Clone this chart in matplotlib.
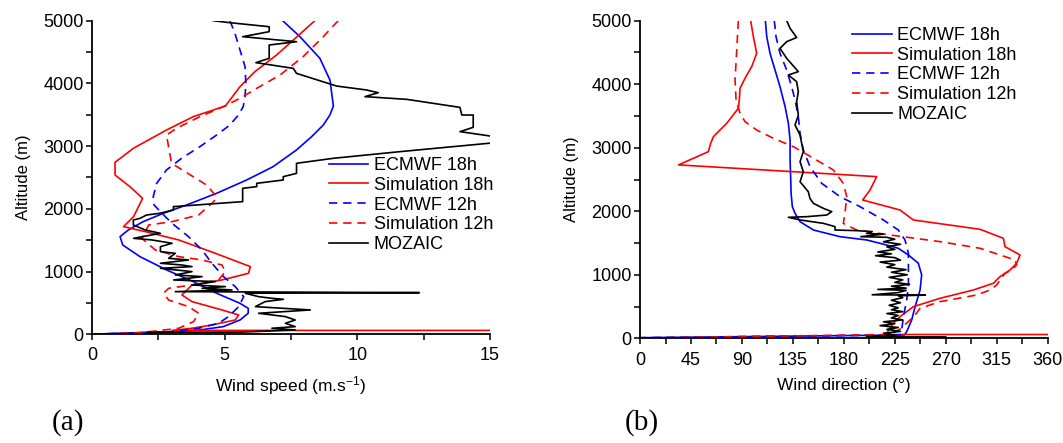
import numpy as np
import matplotlib
matplotlib.use('Agg')
import matplotlib.pyplot as plt
from matplotlib.ticker import MultipleLocator

plt.rcParams['font.family'] = ['Liberation Sans', 'DejaVu Sans']
plt.rcParams['mathtext.default'] = 'regular'

# -------------------- Data: (a) wind speed --------------------
# (value, altitude) pairs, top to bottom

spd_ecmwf18 = [7.19, 7.84, 8.59, 8.97, 9.07, 9.10, 8.97, 8.72, 8.28, 7.71, 6.83, 5.83,
               4.70, 3.57, 2.69, 1.93, 1.37, 1.06, 1.16, 1.81, 2.81, 3.82, 4.70, 5.58,
               5.89, 5.89, 5.58, 4.95, 4.07, 3.07, 0.93, 0.0]
alt_ecmwf18 = [5000, 4745, 4400, 4054, 3735, 3640, 3497, 3337, 3151, 2939, 2673, 2460,
               2248, 2062, 1929, 1796, 1663, 1557, 1424, 1238, 1026, 840, 654, 494,
               414, 335, 228, 122, 69, 43, 16, 0]

spd_sim18 = [8.40, 7.59, 6.96, 6.14, 5.58, 5.03, 3.82, 2.81, 1.56, 0.87, 0.87, 1.43,
             1.91, 1.57, 1.19, 2.01, 3.27, 4.65, 5.97, 5.90, 4.90, 3.77, 3.39, 3.77,
             4.90, 5.53, 5.40, 4.52, 3.77, 3.02, 99.0]
alt_sim18 = [5000, 4692, 4453, 4187, 3948, 3640, 3470, 3257, 2965, 2742, 2540, 2354,
             2168, 1876, 1716, 1637, 1504, 1291, 1079, 972, 866, 786, 627, 521,
             388, 308, 228, 149, 96, 62, 62]

spd_ecmwf12 = [5.20, 5.39, 5.58, 5.77, 5.80, 5.77, 5.70, 5.52, 5.20, 4.70, 4.07, 3.38,
               2.81, 2.44, 2.31, 2.34, 2.64, 3.02, 3.64, 4.15, 4.52, 4.96, 5.40, 5.72,
               5.53, 5.15, 4.77, 4.02, 3.02, 1.26, 0.0]
alt_ecmwf12 = [5000, 4798, 4532, 4267, 4001, 3789, 3629, 3496, 3337, 3177, 2992, 2806,
               2620, 2407, 2194, 2062, 1929, 1769, 1557, 1344, 1132, 919, 760, 600,
               441, 282, 175, 96, 43, 16, 0]

spd_sim12 = [9.28, 8.72, 7.96, 7.09, 6.21, 5.58, 4.95, 4.07, 3.19, 2.81, 3.00, 4.32,
             4.70, 4.59, 4.02, 3.02, 2.14, 1.88, 2.39, 3.27, 4.15, 4.90, 5.03, 4.77,
             3.77, 2.89, 2.70, 2.89, 3.64, 4.02, 3.83, 3.27, 1.88, 0.0]
alt_sim12 = [5000, 4745, 4426, 4134, 3921, 3762, 3629, 3470, 3284, 3177, 2726, 2380,
             2194, 2115, 1902, 1796, 1743, 1530, 1344, 1238, 1185, 1105, 999, 866,
             786, 733, 654, 547, 441, 335, 202, 96, 27, 0]

spd_mozaic = [4.57, 5.20, 6.68, 6.68, 5.68, 7.71, 6.68, 6.68, 6.18, 7.59, 7.71, 9.22,
              10.35, 10.79, 10.29, 11.86, 13.87, 13.94, 14.37, 14.37, 13.87, 15.0, 15.6,
              11.61, 9.10, 7.71, 7.71, 7.21, 7.21, 6.21, 6.21, 5.68, 5.68, 3.07, 3.07,
              2.56, 2.06, 1.81, 1.56, 1.56, 2.01, 2.58, 1.57, 2.26, 3.02, 2.58, 2.58,
              3.14, 2.89, 3.64, 2.58, 3.39, 3.77, 2.58, 3.77, 3.14, 4.15, 3.08, 4.65,
              3.77, 5.03, 4.15, 5.28, 3.14, 12.34, 5.78, 6.28, 6.78, 7.22, 6.53, 6.16,
              8.23, 6.28, 7.29, 7.66, 7.29, 7.66, 6.78, 7.66, 5.65, 2.07, 2.4]
alt_mozaic = [5000, 4968, 4904, 4825, 4745, 4665, 4612, 4400, 4331, 4240, 4160, 3958,
              3895, 3852, 3789, 3746, 3618, 3496, 3496, 3300, 3231, 3162, 3071,
              2912, 2806, 2726, 2566, 2513, 2460, 2407, 2354, 2327, 2115, 2035, 1982,
              1929, 1902, 1849, 1822, 1743, 1663, 1610, 1530, 1504, 1451, 1397, 1318,
              1291, 1211, 1185, 1132, 1105, 1079, 1052, 999, 946, 919, 866, 840,
              786, 760, 733, 707, 680, 664, 654, 600, 574, 558, 521, 441,
              388, 335, 282, 228, 175, 122, 96, 69, 35, 30, 20]

# -------------------- Data: (b) wind direction --------------------

dir_ecmwf18 = [110.7, 111.9, 114.8, 119.2, 123.6, 128.1, 131.0, 132.5, 132.5, 133.1,
               133.4, 134.5, 136.9, 141.3, 153.1, 176.6, 200.2, 217.8, 228.1, 237.0,
               245.8, 248.7, 247.3, 242.9, 239.9, 235.5, 233.4, 0.0]
alt_d_ecmwf18 = [5000, 4748, 4486, 4224, 3961, 3647, 3384, 3122, 2807, 2492,
                 2282, 2072, 1968, 1836, 1705, 1600, 1548, 1469, 1417, 1312,
                 1181, 997, 761, 498, 289, 105, 52, 10]

dir_ecmwf12 = [118.6, 120.1, 123.6, 129.5, 133.9, 136.9, 139.8, 141.3, 144.2, 150.1,
               160.4, 176.6, 194.3, 214.9, 228.1, 234.0, 237.0, 237.0, 237.0, 235.5,
               232.6, 231.1, 229.6, 0.0]
alt_d_ecmwf12 = [5000, 4748, 4486, 4224, 3961, 3752, 3489, 3227, 2965, 2702,
                 2440, 2230, 2072, 1863, 1705, 1548, 1338, 1128, 813, 603,
                 341, 131, 52, 10]

dir_sim18 = [97.7, 100.1, 103.0, 98.6, 92.7, 88.3, 87.7, 86.8, 76.5, 64.8, 62.4, 60.3,
             34.0, 209.0, 203.1, 196.6, 229.6, 241.4, 300.3, 320.9, 322.3, 335.6,
             332.6, 326.8, 317.9, 312.0, 294.4, 264.9, 241.4, 235.5, 229.6, 223.7,
             219.3, 217.8, 999.0]
alt_d_sim18 = [5000, 4748, 4486, 4276, 4093, 3935, 3752, 3620, 3384, 3174, 3070, 2938,
               2730, 2545, 2335, 2177, 2020, 1863, 1716, 1574, 1443, 1312,
               1181, 1076, 971, 866, 761, 630, 498, 420, 341, 236,
               131, 60, 60]

dir_sim12 = [86.8, 85.4, 83.9, 84.8, 88.3, 92.7, 103.0, 117.8, 135.4, 150.7, 170.7,
             179.5, 182.5, 181.0, 179.5, 191.3, 220.8, 264.9, 300.3, 331.2, 332.6,
             328.2, 322.3, 315.0, 309.1, 297.3, 264.9, 247.3, 242.9, 238.5, 230.0,
             221.0, 0.0]
alt_d_sim12 = [5000, 4539, 4067, 3752, 3542, 3411, 3279, 3148, 3017, 2860, 2650,
               2440, 2230, 1968, 1810, 1705, 1627, 1522, 1417, 1233, 1154,
               1076, 1023, 840, 761, 682, 577, 472, 367, 289, 150,
               60, 5]

dir_mozaic = [129.5, 132.5, 138.3, 129.5, 123.6, 129.5, 139.8, 131.0, 138.3, 139.8,
              138.3, 139.8, 136.9, 141.3, 144.2, 141.3, 144.2, 141.3, 148.6, 150.1,
              153.1, 161.9, 169.3, 164.9, 147.2, 131.0, 141.3, 161.9, 172.2, 172.2,
              191.3, 205, 200, 215, 195, 218, 225, 215, 230, 218, 225, 210, 222, 208,
              225, 230, 212, 225, 218, 235, 222, 236, 220, 232, 225, 238, 222, 235,
              210, 235, 228, 205, 252, 228, 232, 222, 230, 220, 228, 222, 232, 218,
              228, 222, 232, 215, 225, 212, 228, 218, 230, 215, 225, 200, 270]
alt_d_mozaic = [5000, 4880, 4735, 4670, 4565, 4407, 4198, 4145, 4040, 3883,
                3725, 3515, 3358, 3200, 2938, 2780, 2623, 2465, 2308, 2200,
                2125, 2046, 1994, 1941, 1915, 1905, 1863, 1810, 1758, 1705,
                1695, 1680, 1650, 1640, 1600, 1590, 1560, 1520, 1480, 1440, 1400, 1360, 1330, 1300,
                1270, 1230, 1200, 1160, 1120, 1080, 1040, 1000, 960, 920, 880, 850, 820, 790,
                770, 755, 720, 685, 680, 670, 640, 600, 560, 520, 480, 450, 420, 390,
                360, 320, 290, 260, 230, 200, 170, 140, 110, 80, 50, 25, 22]

labels = ['ECMWF 18h', 'Simulation 18h', 'ECMWF 12h', 'Simulation 12h', 'MOZAIC']

# -------------------- Plot --------------------

DASH = (0, (5, 3.5))
LW = 1.2


def style_axes(ax):
    for s in ['top', 'right']:
        ax.spines[s].set_visible(False)
    for s in ['left', 'bottom']:
        ax.spines[s].set_linewidth(1.3)
    ax.tick_params(which='both', direction='out', length=4.5, width=1.1, labelsize=13)
    ax.tick_params(axis='y', pad=1.5)
    ax.tick_params(axis='x', pad=5)
    ax.set_ylim(0, 5000)
    ax.yaxis.set_major_locator(MultipleLocator(1000))
    ax.yaxis.set_minor_locator(MultipleLocator(500))
    ax.set_ylabel('Altitude (m)', fontsize=12, labelpad=9)


fig = plt.figure(figsize=(10.63, 4.43), dpi=100)
ax1 = fig.add_axes([0.0865, 0.2454, 0.3744, 0.7079])
ax2 = fig.add_axes([0.6021, 0.2363, 0.3835, 0.7170])

ax1.plot(spd_ecmwf18, alt_ecmwf18, color='#0000ff', lw=LW, label=labels[0])
ax1.plot(spd_sim18, alt_sim18, color='#ff0000', lw=LW, label=labels[1])
ax1.plot(spd_ecmwf12, alt_ecmwf12, color='#0000ff', lw=LW, ls=DASH, label=labels[2])
ax1.plot(spd_sim12, alt_sim12, color='#ff0000', lw=LW, ls=DASH, label=labels[3])
ax1.plot(spd_mozaic, alt_mozaic, color='black', lw=LW, label=labels[4])
style_axes(ax1)
ax1.set_xlim(0, 15)
ax1.xaxis.set_major_locator(MultipleLocator(5))
ax1.xaxis.set_minor_locator(MultipleLocator(2.5))
ax1.set_xlabel('Wind speed (m.s$^{-1}$)', fontsize=12.5, labelpad=7)
ax1.legend(loc='upper left', bbox_to_anchor=(0.595, 0.565), frameon=False,
           fontsize=13, handlelength=2.2, handletextpad=0.3, labelspacing=0.15,
           borderpad=0, borderaxespad=0)

ax2.plot(dir_ecmwf18, alt_d_ecmwf18, color='#0000ff', lw=LW, label=labels[0])
ax2.plot(dir_sim18, alt_d_sim18, color='#ff0000', lw=LW, label=labels[1])
ax2.plot(dir_ecmwf12, alt_d_ecmwf12, color='#0000ff', lw=LW, ls=DASH, label=labels[2])
ax2.plot(dir_sim12, alt_d_sim12, color='#ff0000', lw=LW, ls=DASH, label=labels[3])
ax2.plot(dir_mozaic, alt_d_mozaic, color='black', lw=LW, label=labels[4])
style_axes(ax2)
ax2.set_xlim(0, 360)
ax2.xaxis.set_major_locator(MultipleLocator(45))
ax2.xaxis.set_minor_locator(MultipleLocator(22.5))
ax2.set_xlabel('Wind direction (\u00b0)', fontsize=12.5, labelpad=7)
ax2.legend(loc='upper left', bbox_to_anchor=(0.52, 0.98), frameon=False,
           fontsize=13, handlelength=2.2, handletextpad=0.3, labelspacing=0.15,
           borderpad=0, borderaxespad=0)

fig.text(0.049, 0.03, '(a)', fontsize=21, family=['Liberation Serif', 'DejaVu Serif'])
fig.text(0.588, 0.03, '(b)', fontsize=21, family=['Liberation Serif', 'DejaVu Serif'])

fig.savefig('out.png', dpi=100)
